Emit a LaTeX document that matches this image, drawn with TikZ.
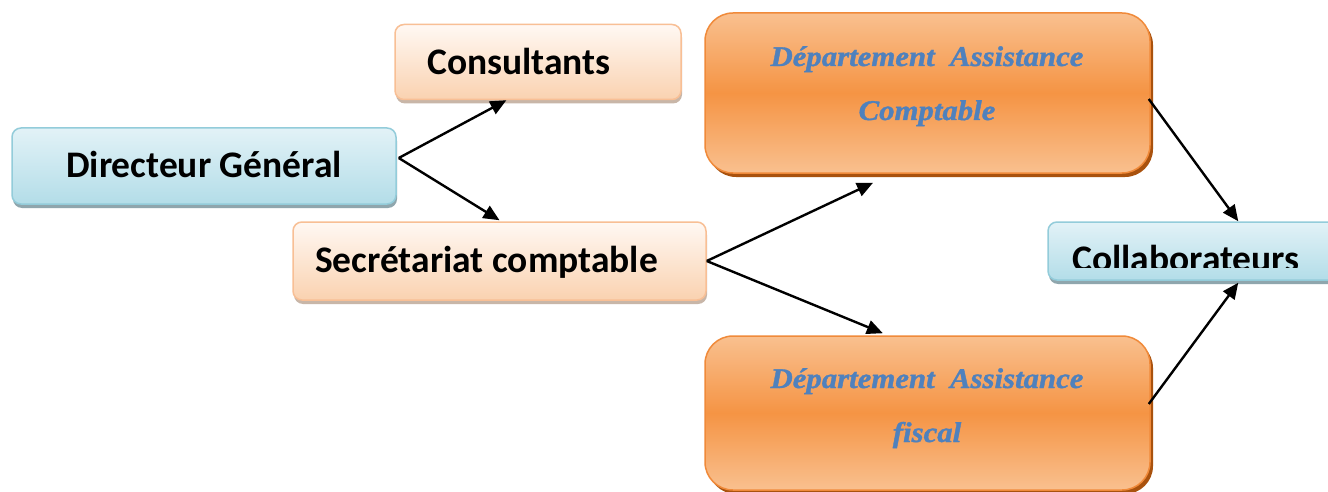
\documentclass[tikz,border=0pt]{standalone}
\usepackage{fontspec}
\setmainfont{Carlito}
\newfontfamily\deptfont[FakeStretch=1.08,FakeBold=1.3]{Liberation Serif}
\usetikzlibrary{arrows.meta,calc,shadows}
\definecolor{bluetop}{HTML}{E2F2F7}
\definecolor{bluebot}{HTML}{B3DDE8}
\definecolor{blueedge}{HTML}{93CCDA}
\definecolor{blueshadow}{HTML}{8FA6AD}
\definecolor{peachtop}{HTML}{FFF8F3}
\definecolor{peachbot}{HTML}{FAD2B0}
\definecolor{peachedge}{HTML}{F8BF95}
\definecolor{peachshadow}{HTML}{C8B6A8}
\definecolor{orangeedge}{HTML}{F08A3A}
\definecolor{orangelight}{HTML}{F9C08F}
\definecolor{orangemid}{HTML}{F59444}
\definecolor{orangeshadow}{HTML}{A9520E}
\definecolor{deptblue}{HTML}{4F81BD}
\tikzset{
  boxbase/.style={inner sep=0pt, line width=1.5pt},
  bluebox/.style={boxbase, rounded corners=9pt, draw=blueedge, top color=bluetop, bottom color=bluebot,
    drop shadow={shadow xshift=1pt, shadow yshift=-4pt, fill=blueshadow, opacity=1}},
  peachbox/.style={boxbase, rounded corners=9pt, draw=peachedge, top color=peachtop, bottom color=peachbot,
    drop shadow={shadow xshift=1pt, shadow yshift=-4pt, fill=peachshadow, opacity=1}},
  orangebox/.style={boxbase, rounded corners=28pt, draw=orangeedge, top color=orangelight, bottom color=orangelight, middle color=orangemid,
    drop shadow={shadow xshift=3pt, shadow yshift=-4pt, fill=orangeshadow, opacity=1}},
  boxtext/.style={inner sep=0pt, font=\bfseries\fontsize{37.5}{40}\selectfont, text=black},
  depttext/.style={inner sep=0pt, anchor=base, font=\deptfont\bfseries\itshape\fontsize{28.5}{30}\selectfont, text=deptblue},
  link/.style={line width=2.4pt, -{Triangle[length=16pt,width=14pt]}}
}
\begin{document}
\begin{tikzpicture}[x=1pt,y=-1pt]
\clip (0,0) rectangle (1328,492);
\fill[white] (0,0) rectangle (1328,492);
% boxes
\node[bluebox, minimum width=384pt, minimum height=76pt] (dg) at (204,166) {};
\node[peachbox, minimum width=286pt, minimum height=75pt] (cons) at (538,62) {};
\node[peachbox, minimum width=413pt, minimum height=78pt] (sec) at (499.5,261) {};
\node[orangebox, minimum width=445pt, minimum height=160pt] (dac) at (927.5,93) {};
\node[orangebox, minimum width=445pt, minimum height=154pt] (daf) at (927.5,413) {};
\node[bluebox, minimum width=304pt, minimum height=58pt] (col) at (1200,251) {};
% texts
\node[boxtext, anchor=base west] (dgt) at (66,177) {Directeur Général};
\node[boxtext, anchor=base west] (const) at (427,75) {Consultants};
\node[boxtext, anchor=base west] (sect) at (315,272) {Secrétariat comptable};
\begin{scope}
  \clip (col.north west) rectangle ($(col.south east)+(0,-13)$);
  \node[boxtext, anchor=base west] (colt) at (1072,271) {Collaborateurs};
\end{scope}
\node[depttext] (dact1) at (927,66) {Département\ \ Assistance};
\node[depttext] (dact2) at (927,120) {Comptable};
\node[depttext] (daft1) at (927,388) {Département\ \ Assistance};
\node[depttext] (daft2) at (927,442) {fiscal};
% connector end points
\coordinate (dgout) at ($(dg.east)+(2,-8)$);
\coordinate (consin) at ($(cons.south west)!0.39!(cons.south east)$);
\coordinate (secin) at ($(sec.north)+(0,-1)$);
\coordinate (secout) at (sec.east);
\coordinate (dacin) at ($($(dac.south west)!0.378!(dac.south east)$)+(0,9)$);
\coordinate (dafin) at ($(daf.north west)!0.4!(daf.north east)+(0,-2)$);
\coordinate (dacout) at ($(dac.east)+(-2,6)$);
\coordinate (dafout) at ($(daf.east)+(-2,-9)$);
\coordinate (colintop) at ($(col.north west)+(191,0)$);
\coordinate (colinbot) at ($(col.south west)+(191,2)$);
% connectors
\draw[link] (dgout) -- (consin);
\draw[link] (dgout) -- (secin);
\draw[link] (secout) -- (dacin);
\draw[link] (secout) -- (dafin);
\draw[link] (dacout) -- (colintop);
\draw[link] (dafout) -- (colinbot);
\end{tikzpicture}
\end{document}
